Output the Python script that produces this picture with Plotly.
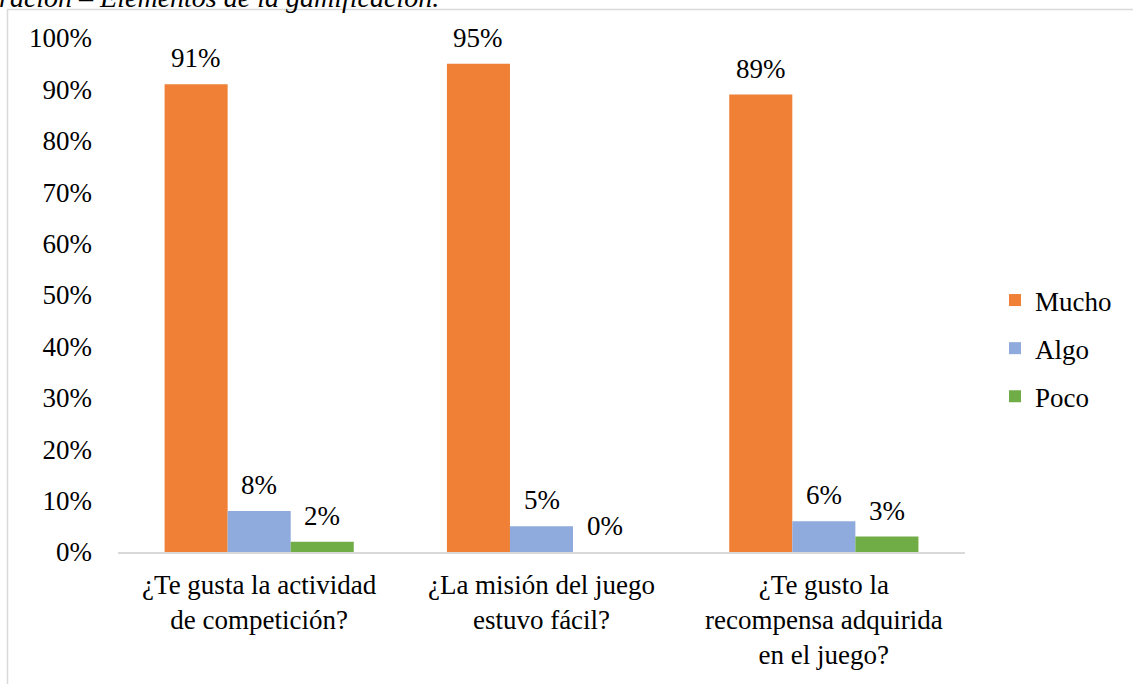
import plotly.graph_objects as go

categories = [
    "¿Te gusta la actividad<br>de competición?",
    "¿La misión del juego<br>estuvo fácil?",
    "¿Te gusto la<br>recompensa adquirida<br>en el juego?",
]
mucho = [91, 95, 89]
algo = [8, 5, 6]
poco = [2, 0, 3]

series = [
    ("Mucho", mucho, "#EF8035"),
    ("Algo", algo, "#8FAADC"),
    ("Poco", poco, "#70AD47"),
]

FONT = "Liberation Serif, Times New Roman, serif"
FS = 27

W, H = 1133, 684
L, R, T, B = 118, 168, 38, 132
pw, ph = W - L - R, H - T - B
BARGAP = 0.33


def px_x(p):
    return (p - L) / pw


def px_y(p):
    return (H - B - p) / ph


fig = go.Figure()
for name, vals, color in series:
    fig.add_trace(go.Bar(
        name=name,
        legendgroup=name,
        x=categories,
        y=vals,
        marker=dict(color=color, line=dict(width=0)),
    ))

# value labels above each bar, offset horizontally to its slot in the group
bar_w = pw / len(categories) * (1 - BARGAP) / len(series)
annotations = []
for i, (name, vals, color) in enumerate(series):
    shift = (i - (len(series) - 1) / 2) * bar_w
    for cat, v in zip(categories, vals):
        annotations.append(dict(
            x=cat, y=v, xref="x", yref="y",
            text=f"{v}%", showarrow=False,
            xanchor="center", yanchor="bottom",
            xshift=shift, yshift=9,
            font=dict(family=FONT, size=FS, color="#000000"),
        ))

annotations.append(dict(
    text="<i>ración – Elementos de la gamificación.</i>",
    xref="paper", yref="paper",
    x=px_x(-3), y=px_y(15), xanchor="left", yanchor="bottom",
    showarrow=False,
    font=dict(family=FONT, size=28, color="#000000"),
))

fig.update_layout(
    width=W, height=H,
    margin=dict(l=L, r=R, t=T, b=B, pad=0),
    barmode="group",
    bargap=BARGAP,
    bargroupgap=0,
    plot_bgcolor="white",
    paper_bgcolor="white",
    font=dict(family=FONT, size=FS, color="#000000"),
    showlegend=True,
    legend=dict(
        x=px_x(995), y=px_y(276), xanchor="left", yanchor="top",
        font=dict(family=FONT, size=FS, color="#000000"),
        itemwidth=30, tracegroupgap=10,
        bgcolor="rgba(0,0,0,0)",
    ),
    xaxis=dict(
        showline=True, linecolor="#D9D9D9", linewidth=1.5,
        ticks="", showgrid=False, zeroline=False,
        tickfont=dict(family=FONT, size=FS, color="#000000"),
        ticklabelstandoff=8,
    ),
    yaxis=dict(
        range=[0, 100], dtick=10, ticksuffix="%",
        showgrid=False, zeroline=False, showline=False, ticks="",
        tickfont=dict(family=FONT, size=FS, color="#000000"),
        ticklabelstandoff=25,
    ),
    shapes=[dict(
        type="rect", xref="paper", yref="paper",
        x0=px_x(7.5), x1=px_x(W + 20), y0=px_y(H + 20), y1=px_y(9.5),
        line=dict(color="#D9D9D9", width=1.5), fillcolor="rgba(0,0,0,0)",
        layer="below",
    )],
    annotations=annotations,
)

fig.write_html("out.html")
